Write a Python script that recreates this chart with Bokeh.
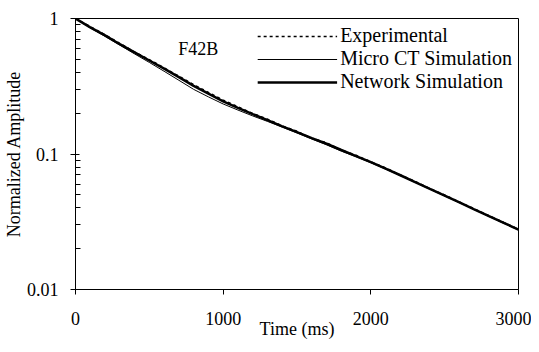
from bokeh.plotting import figure
from bokeh.models import FixedTicker, Label, Legend, LegendItem, NumeralTickFormatter
from bokeh.embed import file_html
from bokeh.resources import INLINE

# ---- data ----
time_ms = [0, 100, 200, 300, 400, 500, 600, 700, 800, 900, 1000,
           1100, 1200, 1300, 1400, 1500, 1600, 1700, 1800, 1900, 2000,
           2100, 2200, 2300, 2400, 2500, 2600, 2700, 2800, 2900, 3000]

experimental = [1.0, 0.872, 0.758, 0.655, 0.566, 0.497, 0.433, 0.375, 0.325, 0.285, 0.250,
                0.223, 0.199, 0.181, 0.161, 0.147, 0.131, 0.121, 0.107, 0.0980, 0.0875,
                0.0790, 0.0700, 0.0628, 0.0556, 0.0498, 0.0442, 0.0395, 0.0350, 0.0313, 0.0278]

micro_ct = [1.0, 0.852, 0.738, 0.636, 0.548, 0.474, 0.408, 0.350, 0.300, 0.264, 0.234,
            0.211, 0.191, 0.174, 0.158, 0.143, 0.129, 0.117, 0.105, 0.0955, 0.0862,
            0.0774, 0.0693, 0.0617, 0.0550, 0.0490, 0.0437, 0.0389, 0.0346, 0.0308, 0.0275]

network = [1.0, 0.861, 0.750, 0.646, 0.562, 0.490, 0.427, 0.369, 0.318, 0.279, 0.245,
           0.219, 0.197, 0.178, 0.160, 0.145, 0.131, 0.119, 0.107, 0.0966, 0.0871,
           0.0780, 0.0697, 0.0621, 0.0553, 0.0493, 0.0440, 0.0391, 0.0348, 0.0310, 0.0277]

x_ticks = [0, 1000, 2000, 3000]
y_ticks = [0.01, 0.1, 1]
y_minor = [0.02, 0.03, 0.04, 0.05, 0.06, 0.07, 0.08, 0.09,
           0.2, 0.3, 0.4, 0.5, 0.6, 0.7, 0.8, 0.9]

series_labels = ["Experimental", "Micro CT Simulation", "Network Simulation"]
sample_name = "F42B"
x_title = "Time (ms)"
y_title = "Normalized Amplitude"

FONT = "Liberation Serif"

p = figure(width=531, height=344, y_axis_type="log",
           x_range=(0, 3000), y_range=(0.01, 1),
           output_backend="svg", toolbar_location=None,
           min_border_left=74, min_border_right=13,
           min_border_top=18, min_border_bottom=55)

p.grid.visible = False
p.outline_line_color = "black"
p.outline_line_alpha = 1
p.outline_line_width = 1
p.background_fill_color = "white"
p.border_fill_color = "white"

r_net = p.line(time_ms, network, line_color="black", line_width=2.5)
r_ct = p.line(time_ms, micro_ct, line_color="black", line_width=1)
r_exp = p.line(time_ms, experimental, line_color="black", line_width=1.5, line_dash="3 3")

# axes
xa = p.xaxis[0]
xa.ticker = FixedTicker(ticks=x_ticks, minor_ticks=[])
xa.major_tick_in = 0
xa.major_tick_out = 5
xa.axis_line_color = "black"
xa.major_tick_line_color = "black"
xa.major_label_text_font = FONT
xa.major_label_text_font_size = "18px"
xa.major_label_text_color = "black"
xa.major_label_standoff = 17
xa.axis_label = x_title
xa.axis_label_text_font = FONT
xa.axis_label_text_font_size = "18px"
xa.axis_label_text_font_style = "normal"
xa.axis_label_text_color = "black"
xa.axis_label_standoff = -9

ya = p.yaxis[0]
ya.ticker = FixedTicker(ticks=y_ticks, minor_ticks=y_minor)
ya.formatter = NumeralTickFormatter(format="0.[00]")
ya.major_tick_in = 4
ya.major_tick_out = 5
ya.minor_tick_in = 5
ya.minor_tick_out = 0
ya.axis_line_color = "black"
ya.major_tick_line_color = "black"
ya.minor_tick_line_color = "black"
ya.major_label_text_font = FONT
ya.major_label_text_font_size = "18px"
ya.major_label_text_color = "black"
ya.major_label_standoff = 12
ya.axis_label = y_title
ya.axis_label_text_font = FONT
ya.axis_label_text_font_size = "18px"
ya.axis_label_text_font_style = "normal"
ya.axis_label_text_color = "black"
ya.axis_label_standoff = 0

legend = Legend(items=[LegendItem(label=series_labels[0], renderers=[r_exp]),
                       LegendItem(label=series_labels[1], renderers=[r_ct]),
                       LegendItem(label=series_labels[2], renderers=[r_net])],
                location="top_right")
legend.border_line_alpha = 0
legend.background_fill_alpha = 0
legend.padding = 0
legend.margin = 6
legend.spacing = 0
legend.glyph_width = 80
legend.glyph_height = 20
legend.label_height = 20
legend.label_standoff = 3
legend.label_text_font = FONT
legend.label_text_font_size = "20px"
legend.label_text_line_height = 1.0
legend.label_text_color = "black"
p.add_layout(legend)

p.add_layout(Label(x=696, y=0.60, text=sample_name, text_font=FONT,
                   text_font_size="18px", text_color="black",
                   text_baseline="alphabetic"))

open("out.html", "w").write(file_html(p, INLINE))
